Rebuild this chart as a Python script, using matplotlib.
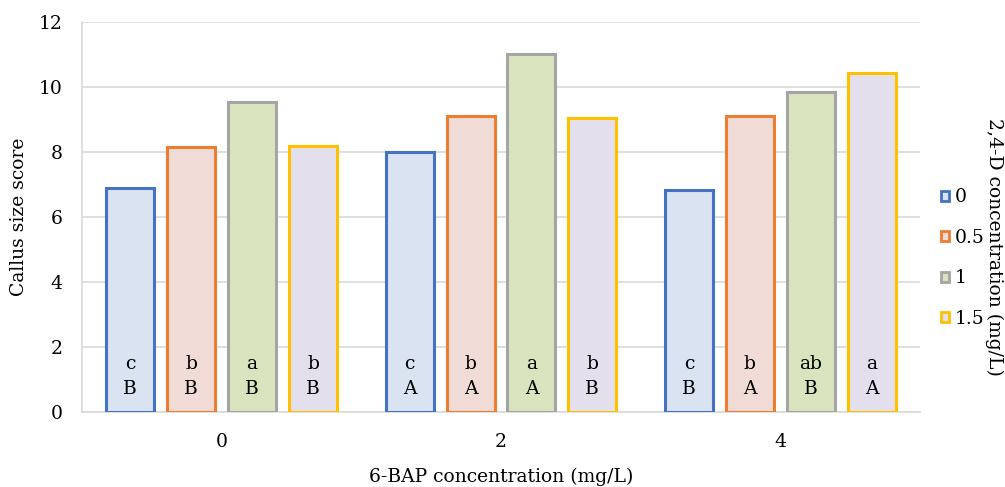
import matplotlib
matplotlib.use("Agg")
import matplotlib.pyplot as plt
from matplotlib.patches import Patch
import numpy as np

plt.rcParams['font.family'] = ['DejaVu Serif']

categories = ['0', '2', '4']
series_names = ['0', '0.5', '1', '1.5']
values = {
    '0':   [6.88, 8.00, 6.82],
    '0.5': [8.16, 9.10, 9.10],
    '1':   [9.55, 11.02, 9.84],
    '1.5': [8.20, 9.06, 10.42],
}
lower_letters = {
    '0':   ['c', 'c', 'c'],
    '0.5': ['b', 'b', 'b'],
    '1':   ['a', 'a', 'ab'],
    '1.5': ['b', 'b', 'a'],
}
upper_letters = {
    '0':   ['B', 'A', 'B'],
    '0.5': ['B', 'A', 'A'],
    '1':   ['B', 'A', 'B'],
    '1.5': ['B', 'B', 'A'],
}
face_colors = ['#DAE3F1', '#F1DBD7', '#D8E4BD', '#E4DFEC']
edge_colors = ['#4472C4', '#ED7D31', '#A5A5A5', '#FFC000']

fig = plt.figure(figsize=(10.05, 4.87), dpi=100)
ax = fig.add_axes([0.0816, 0.154, 0.8338, 0.8008])

x = np.arange(len(categories))
width = 0.172
step = 0.218
fs = 13.5
for i, name in enumerate(series_names):
    xs = x + (i - 1.5) * step
    ax.bar(xs, values[name], width, color=face_colors[i], edgecolor=edge_colors[i],
           linewidth=2.2, zorder=3)
    for j in range(len(categories)):
        ax.text(xs[j], 1.48, lower_letters[name][j], ha='center', va='center', fontsize=fs, zorder=4)
        ax.text(xs[j], 0.71, upper_letters[name][j], ha='center', va='center', fontsize=fs, zorder=4)

ax.set_xlim(-0.5, 2.5)
ax.set_ylim(0, 12)
ax.set_yticks(np.arange(0, 13, 2))
ax.set_xticks(x)
ax.set_xticklabels(categories)
ax.tick_params(axis='both', length=0, labelsize=fs)
ax.tick_params(axis='y', pad=14)
ax.tick_params(axis='x', pad=15)
ax.grid(axis='y', color='#D9D9D9', linewidth=1.2, zorder=0)
for s in ['top', 'right']:
    ax.spines[s].set_visible(False)
ax.spines['left'].set_color('#D9D9D9')
ax.spines['bottom'].set_color('#D9D9D9')
ax.spines['left'].set_linewidth(1.2)
ax.spines['bottom'].set_linewidth(1.2)

ax.set_xlabel('6-BAP concentration (mg/L)', fontsize=fs, labelpad=12)
ax.set_ylabel('Callus size score', fontsize=fs, labelpad=8)

handles = [Patch(facecolor=face_colors[i], edgecolor=edge_colors[i], linewidth=2.0)
           for i in range(4)]
fig.legend(handles, series_names, loc='center left', bbox_to_anchor=(0.927, 0.470),
           frameon=False, fontsize=fs, handlelength=0.42, handleheight=0.42,
           handletextpad=0.3, labelspacing=1.2, borderpad=0)

fig.text(0.989, 0.493, '2,4-D concentration (mg/L)', rotation=-90, ha='center', va='center', fontsize=fs)

fig.savefig('out.png', dpi=100)
